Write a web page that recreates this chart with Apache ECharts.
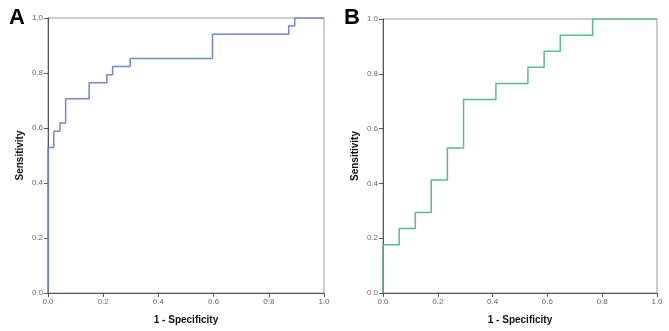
<!DOCTYPE html>
<html>
<head>
<meta charset="utf-8">
<style>
  html, body { margin: 0; padding: 0; background: #fff; }
  #chart { width: 669px; height: 331px; }
</style>
<script src="https://cdn.jsdelivr.net/npm/echarts@6/dist/echarts.min.js"></script>
</head>
<body>
<div id="chart"></div>
<script>
// ROC curve A (1 - specificity, sensitivity)
const fprA = [0, 0, 0.021, 0.043, 0.064, 0.149, 0.213, 0.234, 0.298, 0.596, 0.872, 0.894, 1]
const tprA = [0, 0.529, 0.588, 0.618, 0.706, 0.765, 0.794, 0.824, 0.853, 0.941, 0.971, 1, 1]

// ROC curve B
const fprB = [0, 0, 0.059, 0.118, 0.176, 0.235, 0.294, 0.412, 0.529, 0.588, 0.647, 0.765, 1]
const tprB = [0, 0.176, 0.235, 0.294, 0.412, 0.529, 0.706, 0.765, 0.824, 0.882, 0.941, 1, 1]

const tickLabels = ['0.0', '0.2', '0.4', '0.6', '0.8', '1.0']
const xName = '1 - Specificity'
const yName = 'Sensitivity'
const panelLabels = ['A', 'B']

const font = 'Liberation Sans, Arial, sans-serif'

function pairs(xs, ys) {
  return xs.map((x, i) => [x, ys[i]])
}

function axis(gridIndex, isX) {
  return {
    type: 'value',
    gridIndex: gridIndex,
    min: 0,
    max: 1,
    interval: 0.2,
    name: isX ? xName : yName,
    nameLocation: 'middle',
    nameGap: isX ? 22 : 23,
    nameRotate: isX ? 0 : 90,
    nameMoveOverlap: false,
    nameTextStyle: { fontFamily: font, fontWeight: 'bold', fontSize: 10, color: '#111' },
    axisLine: { show: true, lineStyle: { color: '#555', width: 1 } },
    axisTick: { show: true, inside: false, length: 4, lineStyle: { color: '#555' } },
    axisLabel: {
      fontFamily: font,
      fontSize: 8,
      color: '#666',
      margin: 5,
      formatter: (v) => tickLabels[Math.round(v * 5)]
    },
    splitLine: { show: false }
  }
}

const chart = echarts.init(document.getElementById('chart'), null, { renderer: 'canvas' })

chart.setOption({
  animation: false,
  backgroundColor: '#fff',
  title: [
    { text: panelLabels[0], left: 4, top: 2, textStyle: { fontFamily: font, fontWeight: 'bold', fontSize: 22, color: '#000' } },
    { text: panelLabels[1], left: 339, top: 2, textStyle: { fontFamily: font, fontWeight: 'bold', fontSize: 22, color: '#000' } }
  ],
  grid: [
    { left: 48, top: 18, width: 276, height: 275, show: true, borderColor: '#999', borderWidth: 1 },
    { left: 383, top: 19, width: 274, height: 274, show: true, borderColor: '#999', borderWidth: 1 }
  ],
  xAxis: [axis(0, true), axis(1, true)],
  yAxis: [axis(0, false), axis(1, false)],
  series: [
    {
      type: 'line',
      xAxisIndex: 0,
      yAxisIndex: 0,
      step: 'end',
      symbol: 'none',
      data: pairs(fprA, tprA),
      lineStyle: { color: '#7386d2', width: 1.5 }
    },
    {
      type: 'line',
      xAxisIndex: 1,
      yAxisIndex: 1,
      step: 'end',
      symbol: 'none',
      data: pairs(fprB, tprB),
      lineStyle: { color: '#58bb88', width: 1.5 }
    }
  ]
})
</script>
</body>
</html>
